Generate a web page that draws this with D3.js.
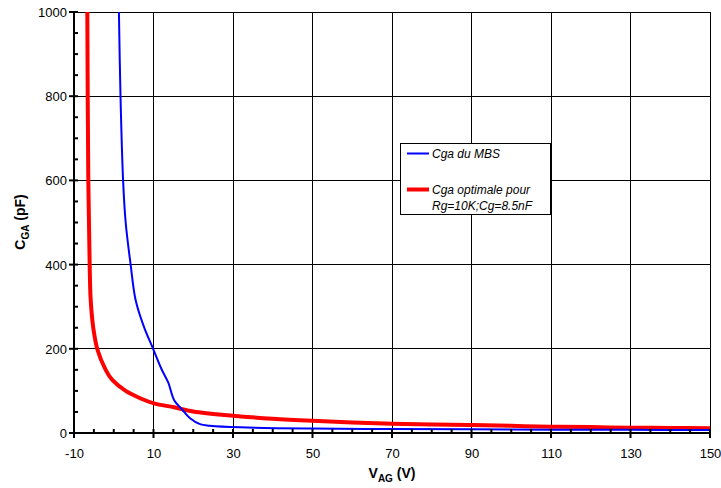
<!DOCTYPE html>
<html><head><meta charset="utf-8">
<script src="https://cdn.jsdelivr.net/npm/d3@7"></script>
<style>body{margin:0;background:#fff}svg{display:block;font-family:"Liberation Sans",Arial,sans-serif}</style>
</head><body><svg id="c" width="721" height="488"></svg>
<script>
const xTicks = [-10, 10, 30, 50, 70, 90, 110, 130, 150];
const yTicks = [0, 200, 400, 600, 800, 1000];
const blueV = [1.3, 1.7, 2.35, 3.0, 4.25, 5.5, 7.6, 9.9, 12, 13.7, 15.2, 17.1, 19.2, 21.7, 24.2, 31.8, 50, 70, 90, 110, 130, 150];
const blueC = [1000, 800, 600, 500, 400, 316, 252, 200, 152, 120, 78, 57, 35, 21, 17.5, 13.5, 10.5, 9.5, 8.7, 8, 7.5, 7];
const redV = [-6.65, -6.4, -6.06, -5.8, -5.14, -4.13, -2.03, -0.36, 3.0, 6.8, 10.1, 15.2, 20, 30, 40, 50, 60, 70, 80, 90, 100, 110, 120, 130, 140, 150];
const redC = [1000, 600, 400, 316, 249, 199, 150, 126, 100, 82, 70.5, 61, 51, 41, 34, 29, 25, 22, 20, 19, 17, 15, 14, 12.6, 12, 11];
const seriesNames = ["Cga du MBS", "Cga optimale pour", "Rg=10K;Cg=8.5nF"];

const svg = d3.select("#c");
const L = 74, R = 710, T = 12, B = 433;
const x = d3.scaleLinear().domain([-10, 150]).range([L, R]);
const y = d3.scaleLinear().domain([0, 1000]).range([B, T]);

svg.append("defs").append("clipPath").attr("id", "clip")
  .append("rect").attr("x", L).attr("y", T).attr("width", R - L).attr("height", B - T);

// grid
const g = svg.append("g");
g.selectAll(".vg").data(xTicks.slice(1)).join("line")
  .attr("x1", d => x(d)).attr("x2", d => x(d)).attr("y1", T).attr("y2", B)
  .attr("stroke", "#000").attr("stroke-width", 1).attr("shape-rendering", "crispEdges");
g.selectAll(".hg").data(yTicks.slice(1)).join("line")
  .attr("x1", L).attr("x2", R).attr("y1", d => y(d)).attr("y2", d => y(d))
  .attr("stroke", "#000").attr("stroke-width", 1).attr("shape-rendering", "crispEdges");

// curves
const line = d3.line().x(d => x(d[0])).y(d => y(d[1])).curve(d3.curveCatmullRom.alpha(0.5));
const cg = svg.append("g").attr("clip-path", "url(#clip)");
cg.append("path").datum(redV.map((v, i) => [v, redC[i]])).attr("d", line)
  .attr("fill", "none").attr("stroke", "#ff0000").attr("stroke-width", 4);
cg.append("path").datum(blueV.map((v, i) => [v, blueC[i]])).attr("d", line)
  .attr("fill", "none").attr("stroke", "#0000ff").attr("stroke-width", 2);

// axes
const xAxis = d3.axisBottom(x).tickValues(xTicks).tickSize(0).tickFormat(d => String(d));
const ax = svg.append("g").attr("transform", `translate(0,${B})`).call(xAxis);
ax.select(".domain").remove();
ax.selectAll("text").attr("dy", 0).attr("y", 25).attr("font-size", 13).attr("fill", "#000")
  .attr("font-family", "Liberation Sans, Arial, sans-serif");
const yAxis = d3.axisLeft(y).tickValues(yTicks).tickSize(0).tickFormat(d => String(d));
const ay = svg.append("g").attr("transform", `translate(${L},0)`).call(yAxis);
ay.select(".domain").remove();
ay.selectAll("text").attr("x", -7).attr("dy", "0.35em").attr("font-size", 13).attr("fill", "#000")
  .attr("font-family", "Liberation Sans, Arial, sans-serif");

// tick marks
const tk = svg.append("g").attr("stroke", "#000").attr("stroke-width", 2);
tk.selectAll(".xm").data(d3.range(-10, 151, 5)).join("line")
  .attr("x1", d => x(d)).attr("x2", d => x(d))
  .attr("y1", d => (d + 10) % 20 === 0 ? B + 5 : B)
  .attr("y2", B - 4);
tk.selectAll(".ym").data(d3.range(0, 1001, 50)).join("line")
  .attr("y1", d => y(d)).attr("y2", d => y(d))
  .attr("x1", d => d % 200 === 0 ? L - 5 : L).attr("x2", L + 4);
// axis lines
svg.append("line").attr("x1", L).attr("x2", R + 1).attr("y1", B).attr("y2", B).attr("stroke", "#000").attr("stroke-width", 2);
svg.append("line").attr("x1", L).attr("x2", L).attr("y1", T).attr("y2", B + 1).attr("stroke", "#000").attr("stroke-width", 2);

// titles
const yt = svg.append("text").attr("transform", "translate(25,222) rotate(-90)")
  .attr("text-anchor", "middle").attr("font-weight", "bold").attr("font-size", 14);
yt.append("tspan").text("C");
yt.append("tspan").attr("font-size", 10).attr("dy", 4).text("GA");
yt.append("tspan").attr("dy", -4).text(" (pF)");
const xt = svg.append("text").attr("x", 392).attr("y", 478)
  .attr("text-anchor", "middle").attr("font-weight", "bold").attr("font-size", 14);
xt.append("tspan").text("V");
xt.append("tspan").attr("font-size", 10).attr("dy", 4).text("AG");
xt.append("tspan").attr("dy", -4).text(" (V)");

// legend
const lg = svg.append("g");
lg.append("rect").attr("x", 400.5).attr("y", 143.5).attr("width", 150).attr("height", 71)
  .attr("fill", "#fff").attr("stroke", "#000").attr("stroke-width", 1);
lg.append("line").attr("x1", 407).attr("x2", 429).attr("y1", 153.5).attr("y2", 153.5)
  .attr("stroke", "#0000ff").attr("stroke-width", 2);
lg.append("line").attr("x1", 407).attr("x2", 429).attr("y1", 189.5).attr("y2", 189.5)
  .attr("stroke", "#ff0000").attr("stroke-width", 4);
const lt = [[seriesNames[0], 158], [seriesNames[1], 194], [seriesNames[2], 210]];
lg.selectAll(".lt").data(lt).join("text").attr("x", 432).attr("y", d => d[1])
  .attr("font-size", 12).attr("font-style", "italic").text(d => d[0]);
</script></body></html>
